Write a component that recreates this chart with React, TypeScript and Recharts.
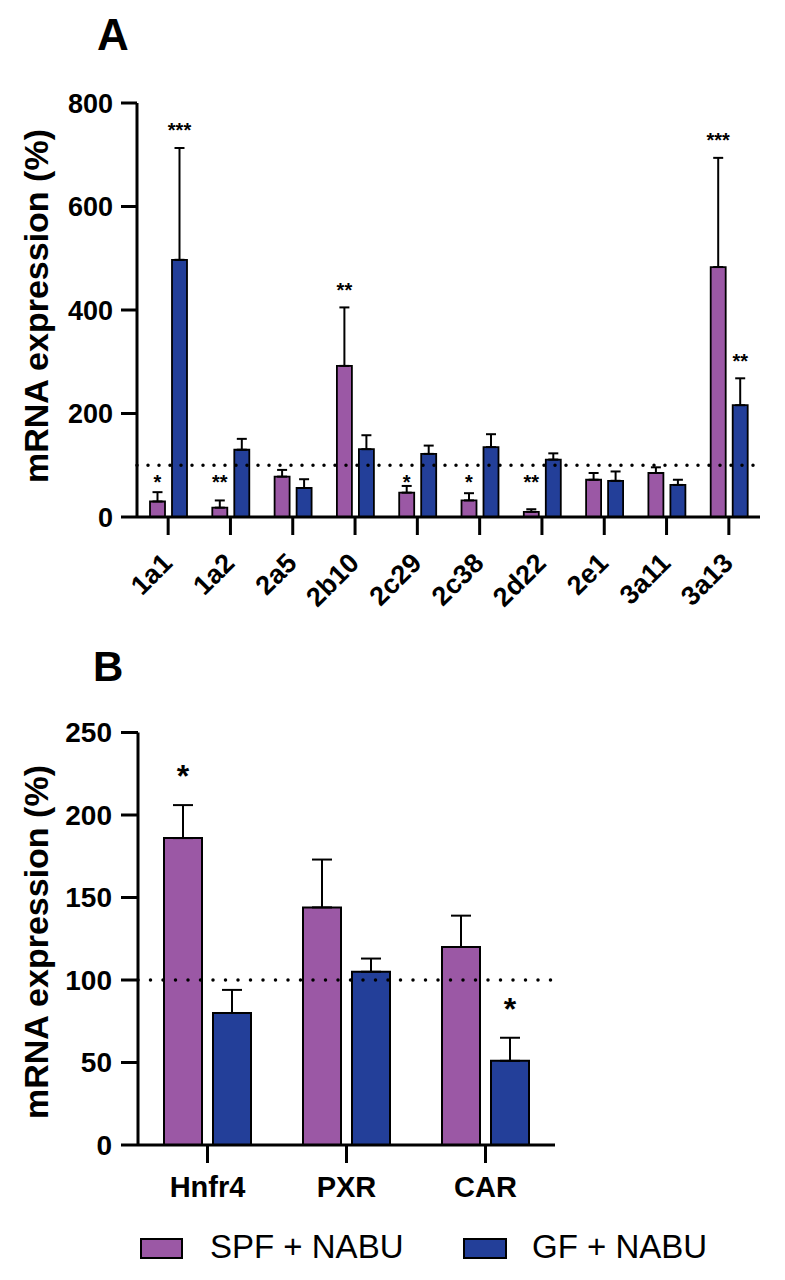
import React from "react";
import { BarChart, Bar, XAxis, YAxis, ReferenceLine, ErrorBar, LabelList } from "recharts";

const FONT = '"Liberation Sans", Arial, Helvetica, sans-serif';
const SPF = "#9b58a5";
const GF = "#233f99";

// panel A: CYP genes
const genes = ["1a1", "1a2", "2a5", "2b10", "2c29", "2c38", "2d22", "2e1", "3a11", "3a13"];
const spfA = [30, 18, 78, 292, 47, 32, 10, 72, 85, 483];
const spfAErr = [18, 14, 13, 113, 13, 14, 5, 13, 11, 211];
const gfA = [497, 130, 56, 131, 122, 135, 111, 70, 62, 216];
const gfAErr = [216, 21, 17, 27, 16, 25, 12, 18, 10, 52];
const spfASig = ["*", "**", "", "**", "*", "*", "**", "", "", "***"];
const gfASig = ["***", "", "", "", "", "", "", "", "", "**"];
const ticksA = [0, 200, 400, 600, 800];

// panel B: nuclear receptors
const receptors = ["Hnfr4", "PXR", "CAR"];
const spfB = [186, 144, 120];
const spfBErr = [20, 29, 19];
const gfB = [80, 105, 51];
const gfBErr = [14, 8, 14];
const spfBSig = ["*", "", ""];
const gfBSig = ["", "", "*"];
const ticksB = [0, 50, 100, 150, 200, 250];

const rowsA = genes.map((g, i) => ({
  gene: g, i,
  spf: spfA[i], spfErr: [0, spfAErr[i]],
  gf: gfA[i], gfErr: [0, gfAErr[i]],
}));
const rowsB = receptors.map((g, i) => ({
  gene: g, i,
  spf: spfB[i], spfErr: [0, spfBErr[i]],
  gf: gfB[i], gfErr: [0, gfBErr[i]],
}));

// star above the error bar; small bars get their star just under the 100% line
function stars(vals: number[], errs: number[], sigs: string[], size: number, lift: number, floor?: number) {
  return (props: any) => {
    const vb = props.viewBox || props;
    const idx = typeof props.value === "number" ? props.value : props.index;
    const s = sigs[idx];
    if (!s) return null;
    const { x, y, width, height } = vb;
    const per = height / vals[idx];
    let cy = y - errs[idx] * per - lift;
    if (floor != null && vals[idx] + errs[idx] < floor) cy = y + height - floor * per + 12;
    return (
      <text x={x + width / 2} y={cy + size * 0.57} textAnchor="middle" fontSize={size}
            fontWeight="bold" fontFamily={FONT} fill="#000">{s}</text>
    );
  };
}

const RotTick = (props: any) => {
  const { x, y, payload } = props;
  return (
    <g transform={`translate(${x - 1},${y + 21})`}>
      <text x={0} y={0} dy="0.35em" textAnchor="end" transform="rotate(-45)" fontSize={27}
            fontWeight="bold" fontFamily={FONT} fill="#000">{payload.value}</text>
    </g>
  );
};

const axisStyle = { stroke: "#000", strokeWidth: 3 };

const abs = (o: React.CSSProperties): React.CSSProperties => ({ position: "absolute", ...o });

function YLabel({ cx, cy }: { cx: number; cy: number }) {
  return (
    <div style={abs({ left: cx, top: cy, transform: "translate(-50%,-50%) rotate(-90deg)",
      whiteSpace: "nowrap", fontFamily: FONT, fontWeight: "bold", fontSize: 34, lineHeight: "34px" })}>
      mRNA expression (%)
    </div>
  );
}

export default function App() {
  return (
    <div style={abs({ left: 0, top: 0, width: 785, height: 1280, background: "#fff", fontFamily: FONT })}>
      <div style={abs({ left: 97, top: 13, fontSize: 44, fontWeight: "bold", lineHeight: "44px" })}>A</div>
      <YLabel cx={36} cy={306} />
      <div style={abs({ left: 0, top: 0 })}>
        <BarChart width={785} height={620} data={rowsA} barGap={7}
                  margin={{ top: 103, right: 25, bottom: 23, left: 57 }}>
          <XAxis dataKey="gene" interval={0} height={80} tickSize={18} axisLine={axisStyle}
                 tickLine={axisStyle} tick={(p: any) => <RotTick {...p} />} />
          <YAxis domain={[0, 800]} ticks={ticksA} width={80} tickSize={16} tickMargin={8}
                 axisLine={axisStyle} tickLine={axisStyle}
                 tick={{ fill: "#000", fontSize: 27, fontWeight: "bold", fontFamily: FONT }} />
          <ReferenceLine y={100} stroke="#000" strokeWidth={3.5} strokeDasharray="0 11" strokeLinecap="round" />
          <Bar dataKey="spf" name="SPF + NABU" fill={SPF} stroke="#000" strokeWidth={1.8} barSize={15}
               isAnimationActive={false}>
            <ErrorBar dataKey="spfErr" width={5} strokeWidth={2} stroke="#000" direction="y" />
            <LabelList dataKey="i" content={stars(spfA, spfAErr, spfASig, 20, 22, 100)} />
          </Bar>
          <Bar dataKey="gf" name="GF + NABU" fill={GF} stroke="#000" strokeWidth={1.8} barSize={15}
               isAnimationActive={false}>
            <ErrorBar dataKey="gfErr" width={5} strokeWidth={2} stroke="#000" direction="y" />
            <LabelList dataKey="i" content={stars(gfA, gfAErr, gfASig, 20, 22, 100)} />
          </Bar>
        </BarChart>
      </div>

      <div style={abs({ left: 93, top: 646, fontSize: 42, fontWeight: "bold", lineHeight: "42px" })}>B</div>
      <YLabel cx={36} cy={942} />
      <div style={abs({ left: 0, top: 620 })}>
        <BarChart width={785} height={660} data={rowsB} barGap={11}
                  margin={{ top: 112.5, right: 230, bottom: 75, left: 58 }}>
          <XAxis dataKey="gene" interval={0} height={60} tickSize={18} tickMargin={13}
                 axisLine={axisStyle} tickLine={axisStyle}
                 tick={{ fill: "#000", fontSize: 29, fontWeight: "bold", fontFamily: FONT }} />
          <YAxis domain={[0, 250]} ticks={ticksB} width={80} tickSize={17} tickMargin={9}
                 axisLine={axisStyle} tickLine={axisStyle}
                 tick={{ fill: "#000", fontSize: 28, fontWeight: "bold", fontFamily: FONT }} />
          <ReferenceLine y={100} stroke="#000" strokeWidth={3.5} strokeDasharray="0 12.5" strokeLinecap="round" />
          <Bar dataKey="spf" name="SPF + NABU" fill={SPF} stroke="#000" strokeWidth={2} barSize={38}
               isAnimationActive={false}>
            <ErrorBar dataKey="spfErr" width={10} strokeWidth={2} stroke="#000" direction="y" />
            <LabelList dataKey="i" content={stars(spfB, spfBErr, spfBSig, 32, 36)} />
          </Bar>
          <Bar dataKey="gf" name="GF + NABU" fill={GF} stroke="#000" strokeWidth={2} barSize={38}
               isAnimationActive={false}>
            <ErrorBar dataKey="gfErr" width={10} strokeWidth={2} stroke="#000" direction="y" />
            <LabelList dataKey="i" content={stars(gfB, gfBErr, gfBSig, 32, 36)} />
          </Bar>
        </BarChart>
      </div>

      <div style={abs({ left: 140, top: 1238, width: 43, height: 21, boxSizing: "border-box",
        background: SPF, border: "2px solid #000" })} />
      <div style={abs({ left: 210, top: 1230, fontSize: 33, lineHeight: "33px", whiteSpace: "nowrap" })}>SPF + NABU</div>
      <div style={abs({ left: 463, top: 1238, width: 44, height: 21, boxSizing: "border-box",
        background: GF, border: "2px solid #000" })} />
      <div style={abs({ left: 532, top: 1230, fontSize: 33, lineHeight: "33px", whiteSpace: "nowrap" })}>GF + NABU</div>
    </div>
  );
}
